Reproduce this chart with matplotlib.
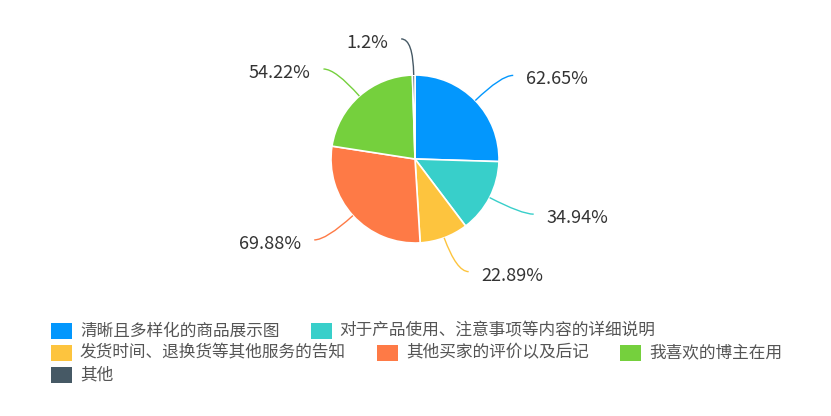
import matplotlib
matplotlib.use("Agg")
import matplotlib.pyplot as plt
import numpy as np
from matplotlib.path import Path
from matplotlib.patches import PathPatch, Rectangle

plt.rcParams['font.family'] = ['Noto Sans CJK SC', 'DejaVu Sans']

categories = ["清晰且多样化的商品展示图", "对于产品使用、注意事项等内容的详细说明",
              "发货时间、退换货等其他服务的告知", "其他买家的评价以及后记",
              "我喜欢的博主在用", "其他"]
values = [62.65, 34.94, 22.89, 69.88, 54.22, 1.2]
labels = ["62.65%", "34.94%", "22.89%", "69.88%", "54.22%", "1.2%"]
colors = ["#0397fd", "#38cfca", "#fdc43e", "#fe7a46", "#75d03d", "#465965"]

W, H = 831, 416
fig = plt.figure(figsize=(W / 100, H / 100), dpi=100)
ax = fig.add_axes([0, 0, 1, 1])

cx, cy, r = 415, H - 159, 84
wedges, _ = ax.pie(values, colors=colors, startangle=90, counterclock=False,
                   center=(cx, cy), radius=r,
                   wedgeprops=dict(edgecolor="white", linewidth=1.2))
ax.set_xlim(0, W)
ax.set_ylim(0, H)
ax.set_aspect('equal', adjustable='box')
ax.axis('off')

# curved label lines
for w, lab, col in zip(wedges, labels, colors):
    th = np.deg2rad((w.theta1 + w.theta2) / 2)
    c, s = np.cos(th), np.sin(th)
    sign = 1 if c >= 0 else -1
    p0 = (cx + r * c, cy + r * s)
    p1 = (cx + r * 1.43 * c, cy + r * 1.43 * s)
    p2 = (p1[0] + sign * 12, p1[1])
    path = Path([p0, p1, p2], [Path.MOVETO, Path.CURVE3, Path.CURVE3])
    ax.add_patch(PathPatch(path, facecolor="none", edgecolor=col, lw=1.0))
    ax.text(p2[0] + sign * 13, p2[1] - 4, lab, fontsize=13, color="#333333",
            ha="left" if sign > 0 else "right", va="center")

# legend, flow layout
fig.canvas.draw()
renderer = fig.canvas.get_renderer()
x0, xmax = 51, 790
row_y = [H - 331, H - 353, H - 375]
x, row = x0, 0
for name, col in zip(categories, colors):
    t = ax.text(0, 0, name, fontsize=12, color="#555555", va="center", ha="left")
    tw = t.get_window_extent(renderer).width
    if x > x0 and x + 29 + tw > xmax:
        row += 1
        x = x0
    y = row_y[row]
    ax.add_patch(Rectangle((x, y - 8), 21, 16, facecolor=col, edgecolor="none"))
    t.set_position((x + 29, y))
    x = x + 29 + tw + 31

fig.savefig("out.png", dpi=100)
